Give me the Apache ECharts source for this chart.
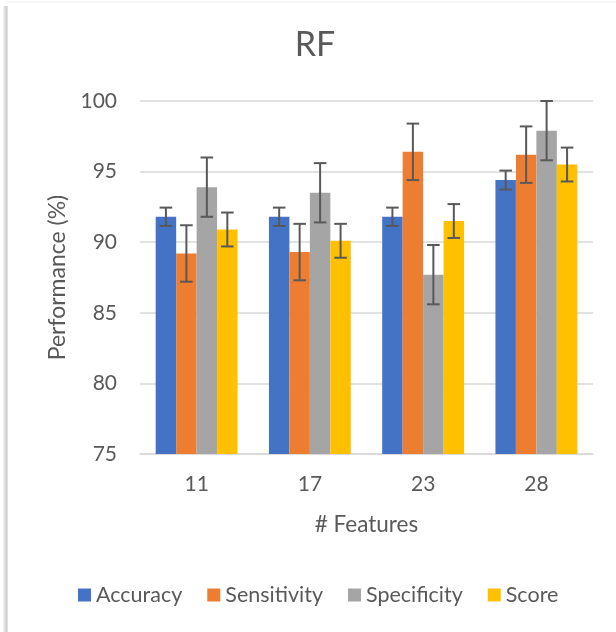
<!DOCTYPE html>
<html>
<head>
<meta charset="utf-8">
<script src="https://cdn.jsdelivr.net/npm/echarts@6/dist/echarts.min.js"></script>
<style>
html,body{margin:0;padding:0;background:#fff;}
#chart{width:616px;height:632px;}
</style>
</head>
<body>
<div id="chart"></div>
<script>
const categories = ['11', '17', '23', '28'];
const seriesNames = ['Accuracy', 'Sensitivity', 'Specificity', 'Score'];
const accuracy = [91.8, 91.8, 91.8, 94.4];
const sensitivity = [89.2, 89.3, 96.4, 96.2];
const specificity = [93.9, 93.5, 87.7, 97.9];
const score = [90.9, 90.1, 91.5, 95.5];
const accuracyErr = [0.65, 0.65, 0.65, 0.67];
const sensitivityErr = [2.0, 2.0, 2.0, 2.0];
const specificityErr = [2.1, 2.1, 2.1, 2.1];
const scoreErr = [1.2, 1.2, 1.2, 1.2];
const yTicks = [75, 80, 85, 90, 95, 100];

const colors = ['#4472C4', '#ED7D31', '#A5A5A5', '#FFC000'];
const values = [accuracy, sensitivity, specificity, score];
const errs = [accuracyErr, sensitivityErr, specificityErr, scoreErr];
const FONT = 'Lato';
const TXT = '#595959';
const CAT_GAP = 0.277;

const errData = [];
values.forEach((arr, s) => {
  arr.forEach((v, i) => {
    errData.push([i, v - errs[s][i], v + errs[s][i], s]);
  });
});

const chart = echarts.init(document.getElementById('chart'));
chart.setOption({
  backgroundColor: '#ffffff',
  animation: false,
  color: colors,
  textStyle: { fontFamily: FONT, color: TXT },
  title: {
    text: 'RF',
    left: 315,
    top: 28,
    padding: 0,
    textAlign: 'center',
    textStyle: { fontFamily: FONT, fontSize: 34, fontWeight: 'normal', color: TXT }
  },
  graphic: [
    {
      type: 'rect', shape: { x: 3, y: 6, width: 4.5, height: 626 },
      style: { fill: new echarts.graphic.LinearGradient(0, 0, 1, 0, [
        { offset: 0, color: '#f4f4f4' }, { offset: 1, color: '#c4c4c4' }]) },
      silent: true
    },
    {
      type: 'line', shape: { x1: 8, y1: 2, x2: 616, y2: 2 },
      style: { stroke: '#f0f0f0', lineWidth: 1 }, silent: true
    }
  ],
  legend: {
    data: seriesNames,
    left: 78,
    top: 584,
    padding: 0,
    itemWidth: 13,
    itemHeight: 13,
    itemGap: 25,
    icon: 'rect',
    textStyle: { fontFamily: FONT, fontSize: 21.5, color: TXT }
  },
  grid: { left: 140, right: 23, top: 101, bottom: 178, containLabel: false },
  xAxis: {
    type: 'category',
    data: categories,
    name: '# Features',
    nameLocation: 'middle',
    nameGap: 59,
    nameTextStyle: { fontFamily: FONT, fontSize: 22.5, color: TXT },
    axisLine: { lineStyle: { color: '#d9d9d9', width: 1.5 } },
    axisTick: { show: false },
    axisLabel: { fontFamily: FONT, fontSize: 21, color: TXT, margin: 20 }
  },
  yAxis: {
    type: 'value',
    min: 75,
    max: 100,
    interval: 5,
    name: 'Performance (%)',
    nameLocation: 'middle',
    nameGap: 67,
    nameTextStyle: { fontFamily: FONT, fontSize: 23, color: TXT },
    axisLine: { show: false },
    axisTick: { show: false },
    splitLine: { lineStyle: { color: '#d9d9d9', width: 1.5 } },
    axisLabel: { fontFamily: FONT, fontSize: 21, color: TXT, margin: 23,
      formatter: v => yTicks.includes(v) ? String(v) : '' }
  },
  series: seriesNames.map((n, s) => ({
    name: n,
    type: 'bar',
    data: values[s],
    barGap: '0%',
    barCategoryGap: (CAT_GAP * 100) + '%',
    itemStyle: { color: colors[s] },
    z: 2
  })).concat([{
    name: 'err',
    type: 'custom',
    data: errData,
    encode: { x: 0, y: [1, 2] },
    clip: false,
    z: 5,
    renderItem: function (params, api) {
      const cat = api.value(0);
      const lo = api.value(1);
      const hi = api.value(2);
      const s = api.value(3);
      const cw = api.size([1, 0])[0];
      const bw = cw * (1 - CAT_GAP) / 4;
      const pLo = api.coord([cat, lo]);
      const pHi = api.coord([cat, hi]);
      const x = pLo[0] + (s - 1.5) * bw;
      const half = 6.3;
      const st = { stroke: '#595959', lineWidth: 2 };
      return {
        type: 'group',
        children: [
          { type: 'line', shape: { x1: x, y1: pLo[1], x2: x, y2: pHi[1] }, style: st },
          { type: 'line', shape: { x1: x - half, y1: pLo[1], x2: x + half, y2: pLo[1] }, style: st },
          { type: 'line', shape: { x1: x - half, y1: pHi[1], x2: x + half, y2: pHi[1] }, style: st }
        ]
      };
    }
  }])
});
</script>
</body>
</html>
